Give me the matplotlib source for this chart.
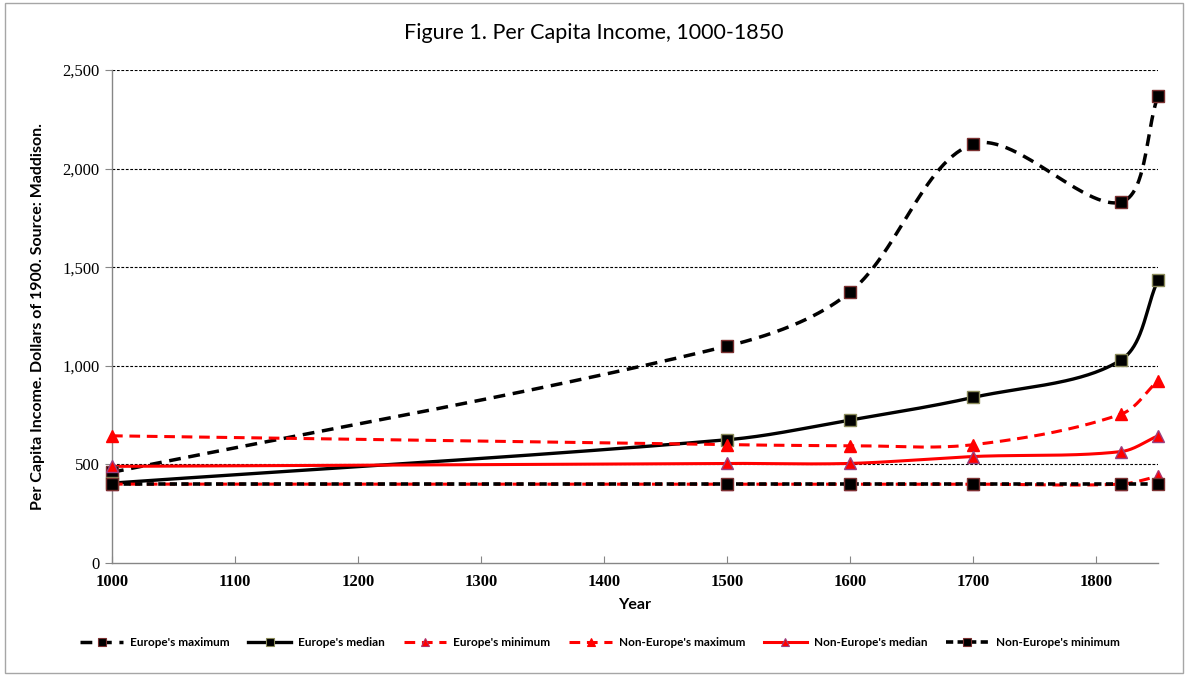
import numpy as np
import matplotlib
matplotlib.use("Agg")
import matplotlib.pyplot as plt
from matplotlib.patches import Rectangle

years = [1000, 1500, 1600, 1700, 1820, 1850]
europe_max = [460, 1100, 1375, 2125, 1830, 2370]
europe_median = [405, 625, 725, 840, 1030, 1435]
europe_min = [400, 400, 400, 400, 400, 440]
noneurope_max = [645, 600, 595, 600, 755, 925]
noneurope_median = [490, 505, 505, 540, 565, 645]
noneurope_min = [400, 400, 400, 400, 400, 400]

series_labels = ["Europe's maximum", "Europe's median", "Europe's minimum",
                 "Non-Europe's maximum", "Non-Europe's median", "Non-Europe's minimum"]
x_ticks = [1000, 1100, 1200, 1300, 1400, 1500, 1600, 1700, 1800]
y_ticks = [0, 500, 1000, 1500, 2000, 2500]

XMIN, XMAX, YMIN, YMAX = 1000, 1850, 0, 2500
AX_W_PX, AX_H_PX = 1158 - 112, 563 - 70


def smooth(xs, ys, n=60):
    """Excel-like smoothed line: Bezier segments with length-weighted tangents (pixel space)."""
    sx = AX_W_PX / (XMAX - XMIN)
    sy = AX_H_PX / (YMAX - YMIN)
    P = np.column_stack([(np.asarray(xs, float) - XMIN) * sx, np.asarray(ys, float) * sy])
    m = len(P)
    L = np.linalg.norm(np.diff(P, axis=0), axis=1)
    T = np.zeros_like(P)
    for i in range(m):
        if i == 0:
            T[i] = (P[1] - P[0]) / L[0]
        elif i == m - 1:
            T[i] = (P[-1] - P[-2]) / L[-1]
        else:
            T[i] = (P[i + 1] - P[i - 1]) / (L[i - 1] + L[i])
    out = [P[0]]
    t = np.linspace(0, 1, n)[1:, None]
    for i in range(m - 1):
        p1, p2 = P[i], P[i + 1]
        c1 = p1 + T[i] * L[i] / 3.0
        c2 = p2 - T[i + 1] * L[i] / 3.0
        seg = ((1 - t) ** 3) * p1 + 3 * ((1 - t) ** 2) * t * c1 + 3 * (1 - t) * t ** 2 * c2 + t ** 3 * p2
        out.extend(seg)
    out = np.array(out)
    return out[:, 0] / sx + XMIN, out[:, 1] / sy


fig = plt.figure(figsize=(11.88, 6.76), dpi=100)
ax = fig.add_axes([112 / 1188, 1 - 563 / 676, AX_W_PX / 1188, AX_H_PX / 676])

fig.patches.append(Rectangle((0.004, 0.004), 0.992, 0.992, transform=fig.transFigure,
                             fill=False, edgecolor="#a6a6a6", linewidth=1.0))

styles = [
    dict(data=europe_max, color="black", ls=(0, (3.4, 2.2)), lw=2.5, marker="s",
         mfc="black", mec="#7a3030", ms=9),
    dict(data=europe_median, color="black", ls="-", lw=2.4, marker="s",
         mfc="black", mec="#8a8a5a", ms=9),
    dict(data=europe_min, color="#ff0000", ls=(0, (3.5, 2.2)), lw=2.2, marker="^",
         mfc="#ff0000", mec="#b0306a", ms=9),
    dict(data=noneurope_max, color="#ff0000", ls=(0, (3.5, 2.2)), lw=2.2, marker="^",
         mfc="#ff0000", mec="#ff0000", ms=9),
    dict(data=noneurope_median, color="#ff0000", ls="-", lw=2.2, marker="^",
         mfc="#ff0000", mec="#9a4080", ms=9),
    dict(data=noneurope_min, color="black", ls=(0, (2.0, 1.2)), lw=2.6, marker="s",
         mfc="black", mec="#7a3030", ms=9),
]

handles = []
for lab, st in zip(series_labels, styles):
    sx, sy = smooth(years, st["data"])
    ax.plot(sx, sy, color=st["color"], ls=st["ls"], lw=st["lw"], zorder=3)
    ax.plot(years, st["data"], ls="none", marker=st["marker"], mfc=st["mfc"],
            mec=st["mec"], ms=st["ms"], mew=1.0, zorder=4, clip_on=False)
    h, = ax.plot([], [], color=st["color"], ls=st["ls"], lw=st["lw"], marker=st["marker"],
                 mfc=st["mfc"], mec=st["mec"], ms=6, mew=0.8)
    handles.append(h)

ax.set_xlim(XMIN, XMAX)
ax.set_ylim(YMIN, YMAX)
ax.set_xticks(x_ticks)
ax.set_yticks(y_ticks)
ax.set_yticklabels([f"{v:,}" for v in y_ticks], family="Liberation Serif", fontsize=12)
ax.set_xticklabels([str(v) for v in x_ticks], family="Liberation Serif", fontsize=12,
                   fontweight="bold")
for v in y_ticks[1:]:
    ax.axhline(v, color="black", lw=0.8, ls=(0, (2.5, 1.5)), zorder=1)

for side in ["top", "right"]:
    ax.spines[side].set_visible(False)
for side in ["left", "bottom"]:
    ax.spines[side].set_color("#868686")
    ax.spines[side].set_linewidth(1.0)
ax.tick_params(axis="x", direction="in", length=5, color="#868686", pad=8)
ax.tick_params(axis="y", direction="out", length=5, color="#868686", pad=4)

ax.set_xlabel("Year", family="Lato", fontsize=11.5, fontweight="bold", labelpad=6)
ax.set_ylabel("Per Capita Income. Dollars of 1900. Source: Maddison.", family="Lato",
              fontsize=11.5, fontweight="bold", labelpad=12)
fig.text(0.5, 1 - 33 / 676, "Figure 1. Per Capita Income, 1000-1850", family="Lato",
         fontsize=15.5, ha="center", va="center")

fig.legend(handles=handles, labels=series_labels, loc="center", ncol=6,
           bbox_to_anchor=(0.505, 1 - 643 / 676), frameon=False,
           prop=dict(family="Lato", size=8.5, weight="bold"), handlelength=3.6,
           columnspacing=1.6, handletextpad=0.6)

fig.savefig("out.png", dpi=100)
